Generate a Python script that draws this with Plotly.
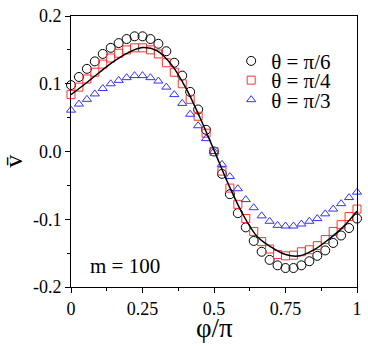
import plotly.graph_objects as go

# phi/pi sampled every 5 degrees (37 points)
phi = [i / 36 for i in range(37)]

v_pi6 = [0.098, 0.110, 0.122, 0.133, 0.144, 0.153, 0.160, 0.166, 0.170, 0.170,
         0.166, 0.159, 0.148, 0.131, 0.112, 0.088, 0.062, 0.032, 0.000, -0.033,
         -0.063, -0.091, -0.112, -0.132, -0.148, -0.160, -0.168, -0.172, -0.172,
         -0.168, -0.162, -0.154, -0.146, -0.135, -0.124, -0.113, -0.099]

v_pi4 = [0.084, 0.095, 0.107, 0.117, 0.129, 0.138, 0.145, 0.150, 0.153, 0.153,
         0.150, 0.144, 0.131, 0.117, 0.100, 0.077, 0.052, 0.027, 0.000, -0.029,
         -0.054, -0.078, -0.099, -0.118, -0.133, -0.144, -0.152, -0.154, -0.153,
         -0.148, -0.145, -0.139, -0.130, -0.118, -0.108, -0.096, -0.085]

v_pi3 = [0.061, 0.070, 0.077, 0.085, 0.093, 0.100, 0.105, 0.109, 0.112, 0.112,
         0.109, 0.104, 0.095, 0.084, 0.071, 0.055, 0.038, 0.019, 0.000, -0.019,
         -0.037, -0.055, -0.071, -0.083, -0.095, -0.103, -0.109, -0.110, -0.110,
         -0.107, -0.103, -0.099, -0.092, -0.085, -0.077, -0.068, -0.060]

# solid theory curve
phi_line = [0.0, 0.05, 0.1, 0.15, 0.2, 0.25, 0.3, 0.35, 0.4, 0.45, 0.5,
            0.55, 0.6, 0.65, 0.7, 0.75, 0.8, 0.85, 0.9, 0.95, 1.0]
v_line = [0.084, 0.100, 0.117, 0.133, 0.146, 0.1535, 0.149, 0.129, 0.095, 0.051, 0.002,
          -0.048, -0.092, -0.125, -0.141, -0.152, -0.154, -0.145, -0.130, -0.112, -0.088]

series = [
    ("θ = π/6", v_pi6, "circle-open", "black", 9, "legend"),
    ("θ = π/4", v_pi4, "square-open", "#ff3333", 8, "legend2"),
    ("θ = π/3", v_pi3, "triangle-up-open", "#3333ff", 8, "legend3"),
]

serif = "Liberation Serif, Times New Roman, DejaVu Serif, serif"

fig = go.Figure()
for name, vals, symbol, color, size, leg in series:
    fig.add_trace(go.Scatter(
        x=phi, y=vals, mode="markers", name=name, legend=leg,
        cliponaxis=False,
        marker=dict(symbol=symbol, size=size, color=color,
                    line=dict(color=color, width=1)),
    ))

fig.add_trace(go.Scatter(
    x=phi_line, y=v_line, mode="lines", showlegend=False,
    line=dict(color="black", width=1.5, shape="spline"),
))

leg_common = dict(x=0.56, xanchor="left", yanchor="middle",
                  bgcolor="rgba(0,0,0,0)", font=dict(family=serif, size=21, color="black"),
                  itemwidth=30)
fig.update_layout(
    width=368, height=346,
    margin=dict(l=71, r=6, t=7, b=59),
    paper_bgcolor="white", plot_bgcolor="white",
    font=dict(family=serif, color="black"),
    legend=dict(y=0.833, **leg_common),
    legend2=dict(y=0.762, **leg_common),
    legend3=dict(y=0.690, **leg_common),
    annotations=[
        dict(text="m = 100", x=0.058, y=-0.1685, xref="x", yref="y",
             xanchor="left", yanchor="middle", showarrow=False,
             font=dict(family=serif, size=21, color="black")),
        dict(text="φ/π", x=0.5, y=-0.15, xref="paper", yref="paper",
             xanchor="center", yanchor="middle", showarrow=False,
             font=dict(family=serif, size=27, color="black")),
        dict(text="v\u0304", x=-0.2, y=0.465, xref="paper", yref="paper",
             xanchor="center", yanchor="middle", showarrow=False, textangle=-90,
             font=dict(family=serif, size=26, color="black")),
    ],
)

axis_common = dict(
    ticks="outside", ticklen=5, tickwidth=1, tickcolor="black",
    showline=True, linecolor="black", linewidth=1, mirror=True,
    showgrid=False, zeroline=False, ticklabeloverflow="allow",
    tickfont=dict(family=serif, size=18, color="black"),
)
fig.update_xaxes(
    range=[0, 1], tickvals=[0, 0.25, 0.5, 0.75, 1],
    ticktext=["0", "0.25", "0.5", "0.75", "1"],
    minor=dict(dtick=0.125, tick0=0, ticks="outside", ticklen=3, tickcolor="black"),
    **axis_common,
)
fig.update_yaxes(
    range=[-0.2, 0.2], tickvals=[-0.2, -0.1, 0, 0.1, 0.2],
    ticktext=["-0.2", "-0.1", "0.0", "0.1", "0.2"],
    minor=dict(dtick=0.05, tick0=0, ticks="outside", ticklen=3, tickcolor="black"),
    **axis_common,
)

fig.write_html(
    "out.html",
    config={"responsive": False, "displayModeBar": False},
    post_script="document.body.style.margin='0';document.body.style.overflow='hidden';",
)
